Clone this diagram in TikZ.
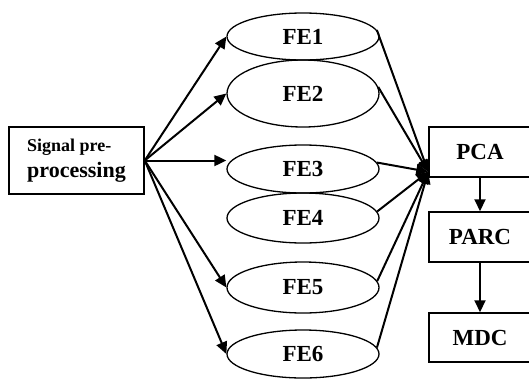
\documentclass[tikz,border=0pt]{standalone}
\usepackage{fontspec}
\setmainfont{Liberation Serif}
\usetikzlibrary{arrows.meta,shapes.geometric}

\begin{document}
\begin{tikzpicture}[x=1pt,y=-1pt,->,>={Triangle[length=12pt,width=11pt]},line width=2pt]
    \tikzstyle{fe}=[ellipse,draw,line width=1.3pt,minimum width=152pt,inner sep=0pt,font=\fontsize{23}{26}\selectfont\bfseries]
    \tikzstyle{blk}=[rectangle,draw,line width=1.5pt,minimum width=102pt,minimum height=50pt,inner sep=0pt,font=\fontsize{23}{26}\selectfont\bfseries]
    \useasboundingbox (0,0) rectangle (529,381);
    \node[blk,minimum width=135pt,minimum height=67pt,align=left,font=\bfseries] (sig) at (76.5,160.5)
        {\fontsize{18}{20}\selectfont Signal pre-\\[6pt]\fontsize{22}{24}\selectfont processing};
    \node[fe,minimum height=47pt] (fe1) at (303,36.5) {FE1};
    \node[fe,minimum height=67pt] (fe2) at (303,93.5) {FE2};
    \node[fe,minimum height=48pt] (fe3) at (303,169) {FE3};
    \node[fe,minimum height=50pt] (fe4) at (303,218) {FE4};
    \node[fe,minimum height=51pt] (fe5) at (303,287.5) {FE5};
    \node[fe,minimum height=48pt] (fe6) at (303,354) {FE6};
    \node[blk] (pca) at (480,152) {PCA};
    \node[blk] (parc) at (480,237) {PARC};
    \node[blk,minimum height=49pt] (mdc) at (480,337.5) {MDC};
    \coordinate (hub) at ([yshift=6pt]pca.south west);
    % fan out
    \draw (sig.east) -- (fe1.west);
    \draw (sig.east) -- (fe2.west);
    \draw (sig.east) -- (fe3.west |- sig.east);
    \draw (sig.east) -- (fe5.west);
    \draw (sig.east) -- (fe6.west);
    % fan in
    \foreach \i in {1,...,6}
      \draw (fe\i.5) -- (hub);
    \draw (pca) -- (parc);
    \draw (parc) -- (mdc);
\end{tikzpicture}
\end{document}
